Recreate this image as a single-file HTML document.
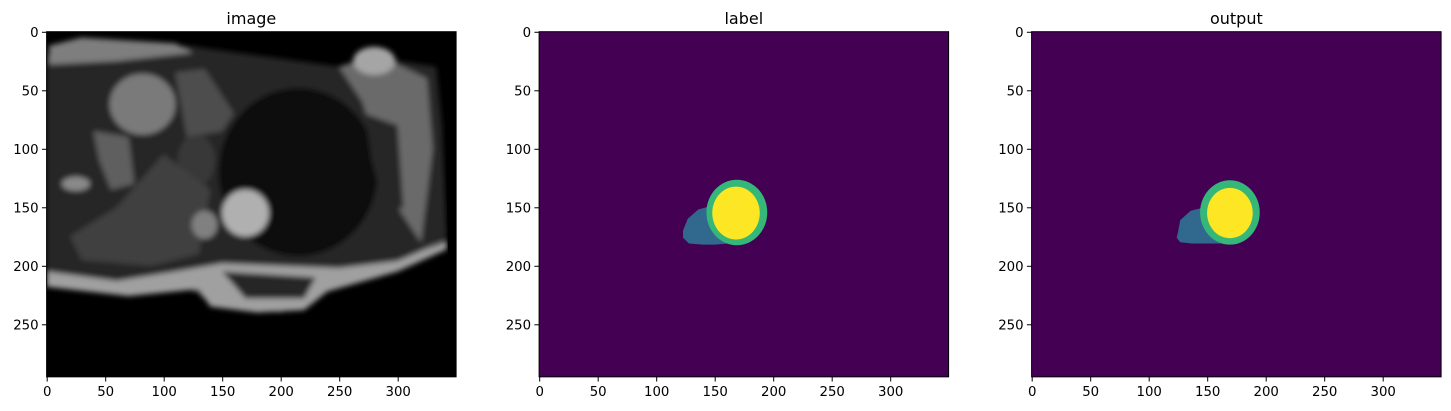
<!DOCTYPE html>
<html><head><meta charset="utf-8"><style>
html,body{margin:0;padding:0;background:#fff;}
svg{display:block;font-family:"DejaVu Sans","Liberation Sans",sans-serif;}
</style></head><body>
<svg id="fig" width="1451" height="411" viewBox="0 0 1451 411" xmlns="http://www.w3.org/2000/svg">
<defs>
<filter id="blur" x="-10%" y="-10%" width="120%" height="120%"><feGaussianBlur stdDeviation="2.2"/></filter>
<clipPath id="imgclip"><rect x="0" y="0" width="350" height="295"/></clipPath>
</defs>
</svg>
<script>
const panelTitles = ["image", "label", "output"];
const xTicks = [0, 50, 100, 150, 200, 250, 300];
const yTicks = [0, 50, 100, 150, 200, 250];
const imgW = 350, imgH = 295;
const labelMyo = [169, 154.5, 26, 28];
const labelLV = [168.3, 155, 20.3, 22.6];
const labelRV = [[123,170],[127,160],[136,152],[147,149],[152,150],[156,176],[162,181],[150,182],[140,182],[128,181],[123,176]];
const outMyo = [169.5, 154.5, 25.5, 27.5];
const outLV = [169.5, 155, 19.5, 21.5];
const outRV = [[125,172],[127,161],[136,153],[148,150],[152,152],[156,177],[162,181],[150,181],[137,181],[127,180],[124,176]];

const NS = "http://www.w3.org/2000/svg";
const fig = document.getElementById("fig");
const S = 1.17, X0 = 46.6, Y0 = 31.7, DX = 492.5;
function mk(tag, attrs, parent){const e=document.createElementNS(NS,tag);for(const k in attrs)e.setAttribute(k,attrs[k]);parent.appendChild(e);return e;}
function px(i, v){return X0 + i*DX + (v+0.5)*S;}
function py(v){return Y0 + (v+0.5)*S;}

panelTitles.forEach((t, i) => {
  const g = mk("g", {}, fig);
  
  
  const inner = mk("g", {transform:`translate(${X0+i*DX},${Y0}) scale(${S})`, "clip-path":"url(#imgclip)"}, g);
  
  
  if (i === 0) {
    mk("rect",{x:0,y:0,width:350,height:295,fill:"#000"},inner);
    const b = mk("g",{filter:"url(#blur)"},inner);
    mk("path",{d:"M0,20 L120,12 L250,30 L300,25 L333,30 L338,80 L342,175 L300,200 L240,215 L200,240 L140,232 L120,218 L60,222 L0,212 Z",fill:"#262626"},b);
    mk("path",{d:"M2,12 L30,5 L110,10 L125,18 L60,25 L2,28 Z",fill:"#7e7e7e"},b);
    mk("ellipse",{cx:215,cy:120,rx:68,ry:72,fill:"#070707"},b);
    mk("ellipse",{cx:82,cy:62,rx:28,ry:26,fill:"#7a7a7a"},b);
    mk("path",{d:"M110,35 L135,32 L160,70 L150,85 L120,90 Z",fill:"#4e4e4e"},b);
    mk("ellipse",{cx:128,cy:110,rx:16,ry:22,fill:"#383838"},b);
    mk("path",{d:"M20,175 L60,150 L100,105 L140,135 L130,190 L90,200 L30,195 Z",fill:"#404040"},b);
    mk("path",{d:"M40,85 L70,90 L75,130 L55,135 L45,110 Z",fill:"#5e5e5e"},b);
    mk("ellipse",{cx:25,cy:130,rx:12,ry:6,fill:"#8a8a8a"},b);
    mk("ellipse",{cx:135,cy:165,rx:11,ry:12,fill:"#808080"},b);
    mk("circle",{cx:170,cy:155,r:20,fill:"#b0b0b0"},b);
    mk("path",{d:"M250,30 L280,20 L300,28 L325,40 L330,100 L320,180 L300,150 L285,110 L270,60 Z",fill:"#6a6a6a"},b);
    mk("ellipse",{cx:280,cy:25,rx:18,ry:12,fill:"#a5a5a5"},b);
    mk("path",{d:"M272,70 L300,80 L305,150 L290,155 L278,110 Z",fill:"#262626"},b);
    mk("path",{d:"M0,205 L60,213 L110,205 L150,198 L250,202 L300,196 L342,178 L342,186 L300,205 L240,222 L220,238 L180,240 L140,235 L130,220 L70,226 L0,218 Z",fill:"#a0a0a0"},b);
    mk("path",{d:"M150,205 L230,210 L220,228 L170,228 Z",fill:"#262626"},b);
    mk("path",{d:"M333,0 L350,0 L350,295 L345,295 L340,30 Z",fill:"#000"},inner);
  } else {
    const myo = i===1?labelMyo:outMyo, lv = i===1?labelLV:outLV, rv = i===1?labelRV:outRV;
    mk("rect",{x:0,y:0,width:350,height:295,fill:"#440154"},inner);
    const rvp = mk("polygon",{points:rv.map(p=>p.join(",")).join(" "),fill:"#31688e"},inner);
    
    
    const m = mk("ellipse",{cx:myo[0],cy:myo[1],rx:myo[2],ry:myo[3],fill:"#35b779"},inner);
    
    
    const l = mk("ellipse",{cx:lv[0],cy:lv[1],rx:lv[2],ry:lv[3],fill:"#fde725"},inner);
    
    
  }
  const fr = mk("rect",{x:X0+i*DX,y:Y0,width:imgW*S,height:imgH*S,fill:"none",stroke:"#000","stroke-width":1},g);
  
  
  const tt = mk("text",{x:X0+i*DX+imgW*S/2,y:24,"text-anchor":"middle","font-size":16,fill:"#000"},g);
  tt.textContent = t;
  
  
  const yb = Y0 + imgH*S;
  xTicks.forEach(v => {
    const x = px(i, v);
    const tk = mk("line",{x1:x,x2:x,y1:yb,y2:yb+4.7,stroke:"#000","stroke-width":1},g);
    
    
    const lb = mk("text",{x:x,y:yb+19,"text-anchor":"middle","font-size":13.3,fill:"#000"},g);
    lb.textContent = v;
    
    
  });
  yTicks.forEach(v => {
    const y = py(v), xl = X0 + i*DX;
    const tk = mk("line",{x1:xl-4.7,x2:xl,y1:y,y2:y,stroke:"#000","stroke-width":1},g);
    
    
    const lb = mk("text",{x:xl-8,y:y+4.8,"text-anchor":"end","font-size":13.3,fill:"#000"},g);
    lb.textContent = v;
    
    
  });
});
</script>
</body></html>
